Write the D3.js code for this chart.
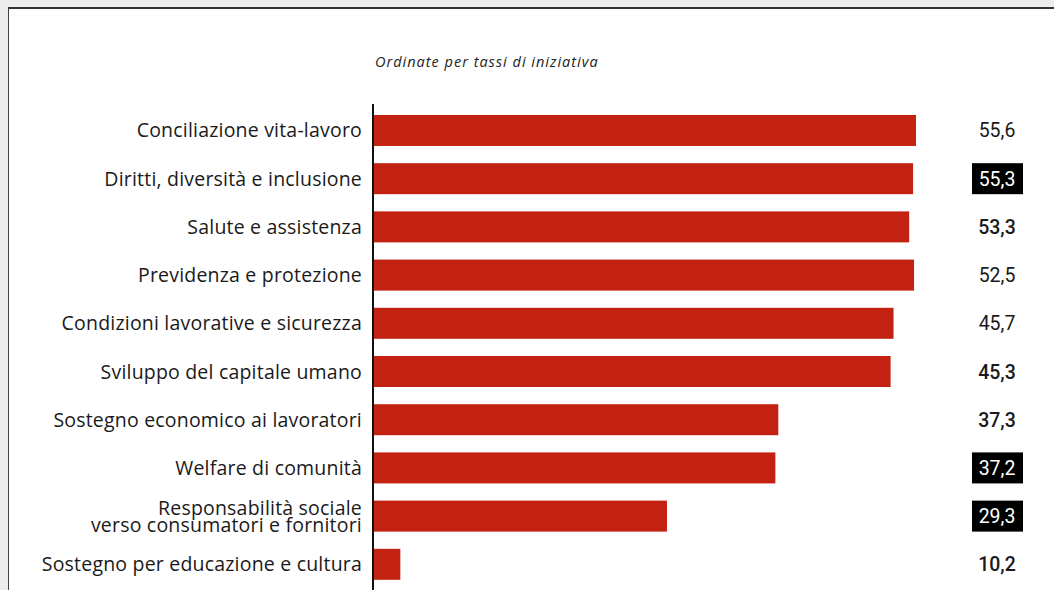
<!DOCTYPE html>
<html>
<head>
<meta charset="utf-8">
<script src="https://cdn.jsdelivr.net/npm/d3@7"></script>
<style>
  html, body { margin: 0; padding: 0; background: #ececec; overflow: hidden; }
  #frame {
    position: absolute; left: 8px; top: 7px; width: 1100px; height: 620px;
    background: #fff; border-top: 2px solid #333; border-left: 1px solid #444;
  }
  svg { position: absolute; left: 0; top: 0; }
</style>
</head>
<body>
<div id="frame"></div>
<svg id="chart"></svg>
<script>
const categories = [
  'Conciliazione vita-lavoro',
  'Diritti, diversità e inclusione',
  'Salute e assistenza',
  'Previdenza e protezione',
  'Condizioni lavorative e sicurezza',
  'Sviluppo del capitale umano',
  'Sostegno economico ai lavoratori',
  'Welfare di comunità',
  'Responsabilità sociale\nverso consumatori e fornitori',
  'Sostegno per educazione e cultura'
];
// bar lengths as drawn in the picture
const barValues = [55.6, 55.3, 54.9, 55.4, 53.3, 53.0, 41.5, 41.2, 30.1, 2.8];
// printed labels
const labelValues = ['55,6', '55,3', '53,3', '52,5', '45,7', '45,3', '37,3', '37,2', '29,3', '10,2'];
const labelStyle = ['normal', 'box', 'bold', 'normal', 'normal', 'bold', 'bold', 'box', 'box', 'bold'];
const subtitle = 'Ordinate per tassi di iniziativa';

const width = 1054, height = 590;
const svg = d3.select('#chart').attr('width', width).attr('height', height);

const x = d3.scaleLinear().domain([0, 55.6]).range([373, 916]);
const y = d3.scaleBand().domain(categories)
  .range([106.4, 588.4]).paddingInner(0.357).paddingOuter(0.178);

svg.append('text')
  .attr('x', 375).attr('y', 67)
  .attr('font-family', '"Open Sans", sans-serif')
  .attr('font-style', 'italic')
  .attr('font-size', 14.5)
  .attr('letter-spacing', 1)
  .attr('fill', '#222')
  .text(subtitle);

svg.selectAll('rect.bar')
  .data(categories)
  .join('rect')
  .attr('class', 'bar')
  .attr('x', x(0))
  .attr('y', d => y(d))
  .attr('width', (d, i) => x(barValues[i]) - x(0))
  .attr('height', y.bandwidth())
  .attr('fill', '#c32111');

// axis line
svg.append('line')
  .attr('x1', x(0)).attr('x2', x(0))
  .attr('y1', 104).attr('y2', height)
  .attr('stroke', '#111').attr('stroke-width', 2);

// category labels
const lab = svg.selectAll('text.cat')
  .data(categories)
  .join('text')
  .attr('class', 'cat')
  .attr('text-anchor', 'end')
  .attr('font-family', '"Open Sans", sans-serif')
  .attr('font-size', 19.5)
  .attr('letter-spacing', 0.2)
  .attr('fill', '#1a1a1a');

lab.each(function (d) {
  const lines = d.split('\n');
  const cy = y(d) + y.bandwidth() / 2;
  const lh = 17;
  const t = d3.select(this);
  lines.forEach((ln, k) => {
    t.append('tspan')
      .attr('x', 362)
      .attr('y', cy + 7 + (k - (lines.length - 1) / 2) * lh)
      .text(ln);
  });
});

// value labels
const vx = 997;
categories.forEach((d, i) => {
  const cy = y(d) + y.bandwidth() / 2;
  if (labelStyle[i] === 'box') {
    svg.append('rect')
      .attr('x', vx - 25).attr('y', y(d))
      .attr('width', 51).attr('height', y.bandwidth())
      .attr('fill', '#000');
  }
  svg.append('text')
    .attr('x', vx).attr('y', cy + 7)
    .attr('text-anchor', 'middle')
    .attr('font-family', 'Roboto, sans-serif')
    .attr('font-size', 19.5)
    .attr('font-weight', labelStyle[i] === 'bold' ? 500 : 400)
    .attr('fill', labelStyle[i] === 'box' ? '#fff' : '#1a1a1a')
    .text(labelValues[i]);
});
</script>
</body>
</html>
